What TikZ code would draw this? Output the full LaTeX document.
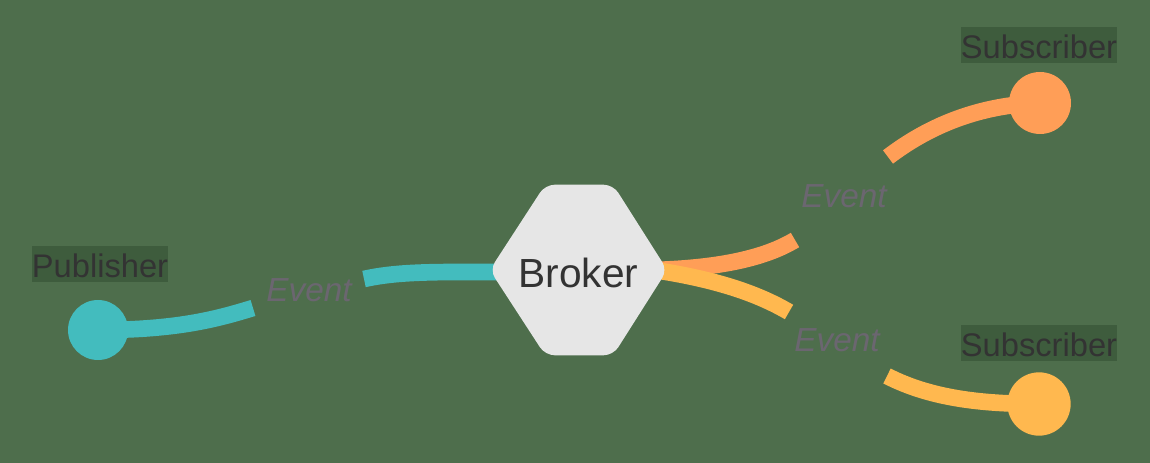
\documentclass[tikz,border=0pt]{standalone}
\usepackage{fontspec}
\setmainfont{Liberation Sans}
\usetikzlibrary{calc}
\definecolor{bgc}{HTML}{4E6E4C}
\definecolor{lblbg}{HTML}{3E5C3D}
\definecolor{tealc}{HTML}{43BCBE}
\definecolor{orangec}{HTML}{FF9E57}
\definecolor{yellowc}{HTML}{FFB84F}
\definecolor{hexc}{HTML}{E6E6E6}
\definecolor{darktext}{HTML}{333333}
\definecolor{evtext}{HTML}{6B6670}
\pgfdeclarelayer{bglayer}
\pgfdeclarelayer{lines}
\pgfdeclarelayer{shapes}
\pgfsetlayers{bglayer,lines,shapes,main}
\begin{document}
\begin{tikzpicture}[x=0.75pt,y=-0.75pt,
  dot/.style={circle,inner sep=0pt,draw=none},
  lbl/.style={font=\fontsize{24.5}{30}\selectfont,text=darktext,fill=lblbg,
    inner xsep=0pt,inner ysep=1.2pt,text height=22.5pt,text depth=1.5pt},
  evt/.style={font=\fontsize{25}{30}\selectfont\itshape,text=evtext,inner sep=0pt},
  conn/.style={line width=12.5pt,line cap=butt}]
\begin{pgfonlayer}{bglayer}
\fill[bgc] (0,0) rectangle (1150,463);
\end{pgfonlayer}
\useasboundingbox (0,0) rectangle (1150,463);

% nodes
\node[dot,fill=tealc,minimum size=45pt] (pub) at (98,330) {};
\node[dot,fill=orangec,minimum size=46.5pt] (sub1) at (1040,103) {};
\node[dot,fill=yellowc,minimum size=47.5pt] (sub2) at (1039,404) {};
\node[font=\fontsize{30.5}{36}\selectfont,text=darktext,inner sep=0pt,
      minimum width=132.75pt,minimum height=127.5pt,text height=27pt,text depth=0pt]
      (broker) at (578.5,270) {Broker};

\node[lbl,anchor=base] (publbl) at (100,278) {Publisher};
\node[lbl,anchor=base] (sub1lbl) at (1039,59) {Subscriber};
\node[lbl,anchor=base] (sub2lbl) at (1039,357) {Subscriber};

\node[evt,anchor=base] (ev1) at (309,302) {Event};
\node[evt,anchor=base] (ev2) at (844,208) {Event};
\node[evt,anchor=base] (ev3) at (837,352) {Event};

% hexagon
\begin{pgfonlayer}{shapes}
\fill[hexc,rounded corners=7pt]
  (broker.west) -- ([xshift=-25pt]broker.north) -- ([xshift=26pt]broker.north)
  -- (broker.east) -- ([xshift=26pt]broker.south) -- ([xshift=-25pt]broker.south) -- cycle;
\end{pgfonlayer}

% connectors
\coordinate (t1) at (253,308);
\coordinate (t2) at (364,279);
\coordinate (o1) at (795,240);
\coordinate (o2) at (888,157);
\coordinate (y1) at (789,312);
\coordinate (y2) at (887,376);
\begin{pgfonlayer}{lines}
\draw[conn,tealc] (pub.center) .. controls (180,330) and (220,318) .. (t1);
\draw[conn,tealc] (t2) .. controls (400,271) and (440,272) .. ([xshift=12pt,yshift=-1.5pt]broker.west);
\draw[conn,orangec] ([xshift=-10pt]broker.east) .. controls (720,268) and (765,258) .. (o1);
\draw[conn,orangec] (o2) .. controls (930,125) and (980,105) .. (sub1.center);
\draw[conn,yellowc] ([xshift=-10pt]broker.east) .. controls (720,280) and (760,295) .. (y1);
\draw[conn,yellowc] (y2) .. controls (930,398) and (980,404) .. (sub2.center);
\end{pgfonlayer}
\end{tikzpicture}
\end{document}
